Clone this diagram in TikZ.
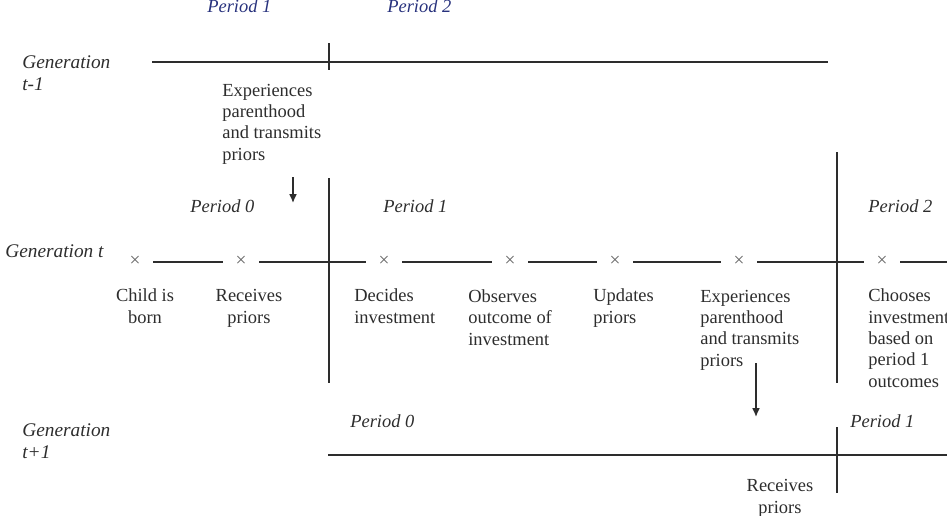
\documentclass[tikz,border=0pt]{standalone}
\usepackage{fontspec}
\setmainfont{Liberation Serif}
\usetikzlibrary{arrows.meta}
\definecolor{inkgray}{RGB}{45,45,45}
\definecolor{scanblue}{RGB}{40,50,125}
\tikzset{
  txt/.style={font=\fontsize{10.5}{12.1}\selectfont, text=inkgray, inner sep=0pt, align=left, anchor=base west},
  ctxt/.style={txt, align=center, anchor=base},
  per/.style={txt, font=\fontsize{10.5}{12.1}\selectfont\itshape},
  gen/.style={txt, font=\fontsize{11}{12.5}\selectfont\itshape},
  tl/.style={draw=inkgray, line width=0.9pt},
  cross/.style={inner sep=0pt, minimum width=0.72cm, text height=0.5em, text depth=0pt, text=black!60, font=\fontsize{11}{11}\selectfont},
  drop/.style={tl, -{Latex[length=5pt,width=4.5pt]}}
}
\begin{document}
\begin{tikzpicture}[x=0.02cm, y=-0.02cm]
  \useasboundingbox (0,0) rectangle (947,515);

  % Generation t-1 (multi-line nodes sit on their last baseline)
  \node[gen] (genA) at (22,90) {Generation\\t-1};
  \node[per, text=scanblue] (pA1) at (207,12) {Period 1};
  \node[per, text=scanblue] (pA2) at (387,12) {Period 2};
  \coordinate (a0) at (152,62);
  \coordinate (a1) at (828,62);
  \draw[tl] (a0) -- (a1);
  \coordinate (aTop) at (329,43);
  \coordinate (aBot) at (329,70);
  \draw[tl] (aTop) -- (aBot);
  \node[txt] (parA) at (222,160) {Experiences\\parenthood\\and transmits\\priors};
  \coordinate (dropA) at (293,177);
  \coordinate (dropAend) at (293,203);
  \draw[drop] (dropA) -- (dropAend);

  % Generation t
  \node[gen] (genB) at (5,257) {Generation t};
  \node[per] (pB0) at (190,212) {Period 0};
  \node[per] (pB1) at (383,212) {Period 1};
  \node[per] (pB2) at (868,212) {Period 2};
  \foreach \n/\x in {1/135,2/241,3/384,4/510,5/615,6/739,7/882}
    \node[cross] (x\n) at (\x,262) {×};
  \foreach \a/\b in {1/2,2/3,3/4,4/5,5/6,6/7}
    \draw[tl] (x\a) -- (x\b);
  \coordinate (bEnd) at (947,262);
  \draw[tl] (x7) -- (bEnd);
  \coordinate (sepA) at (329,178);
  \coordinate (sepAend) at (329,383);
  \draw[tl] (sepA) -- (sepAend);
  \coordinate (sepB) at (837,152);
  \coordinate (sepBend) at (837,383);
  \draw[tl] (sepB) -- (sepBend);
  \node[ctxt] (born) at (145,323) {Child is\\born};
  \node[ctxt] (recv) at (249,323) {Receives\\priors};
  \node[txt] (decide) at (354,323) {Decides\\investment};
  \node[txt] (observe) at (468,345) {Observes\\outcome of\\investment};
  \node[txt] (update) at (593,323) {Updates\\priors};
  \node[txt] (parB) at (700,366) {Experiences\\parenthood\\and transmits\\priors};
  \node[txt] (choose) at (868,387) {Chooses\\investment\\based on\\period 1\\outcomes};
  \coordinate (dropB) at (756,363);
  \coordinate (dropBend) at (756,417);
  \draw[drop] (dropB) -- (dropBend);

  % Generation t+1
  \node[gen] (genC) at (22,458) {Generation\\t+1};
  \node[per] (pC0) at (350,427) {Period 0};
  \node[per] (pC1) at (850,427) {Period 1};
  \coordinate (c0) at (328,455);
  \coordinate (c1) at (947,455);
  \draw[tl] (c0) -- (c1);
  \coordinate (sepC) at (837,427);
  \coordinate (sepCend) at (837,493);
  \draw[tl] (sepC) -- (sepCend);
  \node[ctxt] (recvC) at (780,513) {Receives\\priors};
\end{tikzpicture}
\end{document}
